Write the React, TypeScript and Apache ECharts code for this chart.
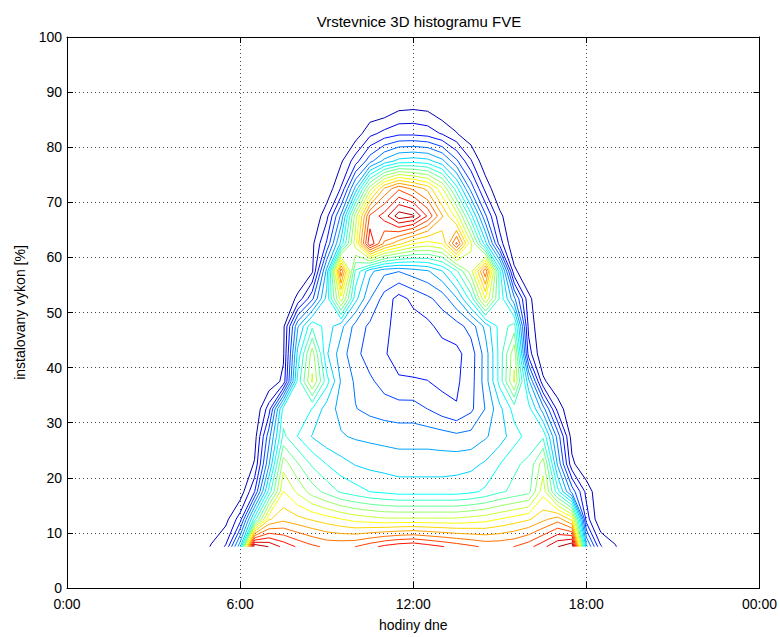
import React, { useEffect, useRef } from "react";
import * as echarts from "echarts";

// hour of day for each histogram column
const hours = [4.5, 5, 5.5, 6, 6.5, 7, 7.5, 8, 8.5, 9, 9.5, 10, 10.5, 11, 11.5, 12, 12.5, 13, 13.5, 14, 14.5, 15, 15.5, 16, 16.5, 17, 17.5, 18, 18.5, 19, 19.5, 20];
// installed power (%) for each histogram row
const percents = [7.5, 12.5, 17.5, 22.5, 27.5, 32.5, 37.5, 42.5, 47.5, 52.5, 57.5, 62.5, 67.5, 72.5, 77.5, 82.5, 87.5, 92.5];

// histogram counts (relative, 0-100), one row per power level, columns follow `hours`
const row075 = [0, 5.3, 10, 32, 100, 95, 89, 85, 82, 80, 80, 81, 84, 87, 89, 90, 88, 86, 84, 82, 80, 80, 81, 84, 89, 95, 100, 30, 10, 5.2, 0, 0];
const row125 = [0, 0, 3, 12, 40, 66, 70, 68, 66, 64, 62, 60, 59, 58, 58, 58, 58, 58, 58, 59, 60, 62, 64, 66, 70, 74, 65, 12, 0, 0, 0, 0];
const row175 = [0, 0, 0, 1.5, 14, 40, 62, 56, 50, 46, 42, 40, 38, 37, 36, 36, 36, 36, 36, 37, 39, 42, 44, 46, 60, 40, 22, 8, 0, 0, 0, 0];
const row225 = [0, 0, 0, 0, 5.2, 28, 55, 48, 42, 38, 35, 33, 32, 31.5, 31, 31, 31, 31, 31.5, 32, 34, 38, 42, 44, 55, 28, 6, 0, 0, 0, 0, 0];
const row275 = [0, 0, 0, 0, 2.5, 22, 44, 38, 33, 30, 29, 28, 27.5, 27, 26.5, 26.5, 26.5, 26, 25, 25.5, 28, 31, 36, 40, 42, 22, 2.5, 0, 0, 0, 0, 0];
const row325 = [0, 0, 0, 0, 0, 12, 40, 40, 38, 31, 27, 24, 22.5, 21.5, 21, 21, 19, 16.5, 14.6, 18, 24, 32, 40, 40, 26, 8, 0, 0, 0, 0, 0, 0];
const row375 = [0, 0, 0, 0, 0, 1, 6, 40, 58, 40, 28, 23, 20, 17, 15, 14.8, 14.4, 13, 13.5, 17, 26, 40, 58, 30, 6, 0, 0, 0, 0, 0, 0, 0];
const row425 = [0, 0, 0, 0, 0, 0, 4, 35, 55, 34, 26, 20.5, 16.5, 14.8, 12, 11.5, 11.5, 12, 13, 16.5, 26, 40, 56, 12, 0, 0, 0, 0, 0, 0, 0, 0];
const row475 = [0, 0, 0, 0, 0, 0, 3.5, 28, 42, 36, 30, 22, 18, 15.5, 12.5, 12, 13, 16, 17, 21, 30, 40, 45, 8, 0, 0, 0, 0, 0, 0, 0, 0];
const row525 = [0, 0, 0, 0, 0, 0, 0, 6, 18, 35, 60, 35, 24, 17, 12.5, 15.5, 18, 21, 28, 40, 62, 42, 25, 6, 0, 0, 0, 0, 0, 0, 0, 0];
const row575 = [0, 0, 0, 0, 0, 0, 0, 0, 4, 30, 80, 42, 30, 25, 24, 26, 28, 33, 42, 55, 80, 40, 6, 0, 0, 0, 0, 0, 0, 0, 0, 0];
const row625 = [0, 0, 0, 0, 0, 0, 0, 0, 3.5, 15, 35, 60, 90, 75, 68, 62, 60, 62, 82, 58, 35, 12, 0, 0, 0, 0, 0, 0, 0, 0, 0, 0];
const row675 = [0, 0, 0, 0, 0, 0, 0, 0, 0, 8, 25, 55, 82, 88, 98, 96, 85, 72, 60, 40, 20, 6, 0, 0, 0, 0, 0, 0, 0, 0, 0, 0];
const row725 = [0, 0, 0, 0, 0, 0, 0, 0, 0, 1, 10, 30, 55, 72, 80, 75, 70, 58, 40, 22, 8, 0, 0, 0, 0, 0, 0, 0, 0, 0, 0, 0];
const row775 = [0, 0, 0, 0, 0, 0, 0, 0, 0, 0, 4, 12, 22, 30, 35, 36, 35, 30, 20, 10, 1, 0, 0, 0, 0, 0, 0, 0, 0, 0, 0, 0];
const row825 = [0, 0, 0, 0, 0, 0, 0, 0, 0, 0, 0, 2, 8, 11, 13, 13, 12, 9, 5, 1, 0, 0, 0, 0, 0, 0, 0, 0, 0, 0, 0, 0];
const row875 = [0, 0, 0, 0, 0, 0, 0, 0, 0, 0, 0, 0, 0, 0, 3, 3.5, 3, 0, 0, 0, 0, 0, 0, 0, 0, 0, 0, 0, 0, 0, 0, 0];
const row925 = [0, 0, 0, 0, 0, 0, 0, 0, 0, 0, 0, 0, 0, 0, 0, 0, 0, 0, 0, 0, 0, 0, 0, 0, 0, 0, 0, 0, 0, 0, 0, 0];

const histogram = [row075, row125, row175, row225, row275, row325, row375, row425, row475, row525, row575, row625, row675, row725, row775, row825, row875, row925];

const xTickValues = [0, 6, 12, 18, 24];
const xTickLabels = ["0:00", "6:00", "12:00", "18:00", "00:00"];
// 20 contour levels (MATLAB contour(Z,20) style)
const contourLevels = [4.76, 9.52, 14.29, 19.05, 23.81, 28.57, 33.33, 38.1, 42.86, 47.62, 52.38, 57.14, 61.9, 66.67, 71.43, 76.19, 80.95, 85.71, 90.48, 95.24];

const FONT = '"Liberation Sans", Arial, Helvetica, sans-serif';

function jet(t: number): string {
  const cl = (v: number) => Math.max(0, Math.min(1, v));
  const r = cl(1.5 - Math.abs(4 * t - 3));
  const g = cl(1.5 - Math.abs(4 * t - 2));
  const b = cl(1.5 - Math.abs(4 * t - 1));
  return `rgb(${Math.round(r * 255)},${Math.round(g * 255)},${Math.round(b * 255)})`;
}

function contourLines(xs: number[], ys: number[], z: number[][], level: number): number[][][] {
  const pts = new Map<string, number[]>();
  const segs: [string, string][] = [];
  const hKey = (r: number, c: number) => {
    const k = "h" + r + "_" + c;
    if (!pts.has(k)) {
      const v0 = z[r][c], v1 = z[r][c + 1];
      const t = (level - v0) / (v1 - v0);
      pts.set(k, [xs[c] + t * (xs[c + 1] - xs[c]), ys[r]]);
    }
    return k;
  };
  const vKey = (r: number, c: number) => {
    const k = "v" + r + "_" + c;
    if (!pts.has(k)) {
      const v0 = z[r][c], v1 = z[r + 1][c];
      const t = (level - v0) / (v1 - v0);
      pts.set(k, [xs[c], ys[r] + t * (ys[r + 1] - ys[r])]);
    }
    return k;
  };
  for (let r = 0; r < ys.length - 1; r++) {
    for (let c = 0; c < xs.length - 1; c++) {
      const a = z[r][c], b = z[r][c + 1], e = z[r + 1][c + 1], d = z[r + 1][c];
      const idx = (a >= level ? 1 : 0) | (b >= level ? 2 : 0) | (e >= level ? 4 : 0) | (d >= level ? 8 : 0);
      if (idx === 0 || idx === 15) continue;
      const B = () => hKey(r, c), T = () => hKey(r + 1, c), L = () => vKey(r, c), R = () => vKey(r, c + 1);
      const add = (p: string, q: string) => segs.push([p, q]);
      const m = (a + b + e + d) / 4;
      switch (idx) {
        case 1: case 14: add(L(), B()); break;
        case 2: case 13: add(B(), R()); break;
        case 3: case 12: add(L(), R()); break;
        case 4: case 11: add(R(), T()); break;
        case 6: case 9: add(B(), T()); break;
        case 7: case 8: add(L(), T()); break;
        case 5:
          if (m >= level) { add(L(), T()); add(B(), R()); } else { add(L(), B()); add(R(), T()); }
          break;
        case 10:
          if (m >= level) { add(L(), B()); add(R(), T()); } else { add(B(), R()); add(L(), T()); }
          break;
      }
    }
  }
  const adj = new Map<string, number[]>();
  segs.forEach((s, i) => {
    for (const k of s) {
      if (!adj.has(k)) adj.set(k, []);
      adj.get(k)!.push(i);
    }
  });
  const used = new Array(segs.length).fill(false);
  const lines: number[][][] = [];
  for (let i = 0; i < segs.length; i++) {
    if (used[i]) continue;
    used[i] = true;
    const chain = [segs[i][0], segs[i][1]];
    const extend = (front: boolean) => {
      for (;;) {
        const end = front ? chain[chain.length - 1] : chain[0];
        const next = (adj.get(end) || []).find((j) => !used[j]);
        if (next === undefined) break;
        used[next] = true;
        const s = segs[next];
        const other = s[0] === end ? s[1] : s[0];
        if (front) chain.push(other); else chain.unshift(other);
      }
    };
    extend(true);
    extend(false);
    lines.push(chain.map((k) => pts.get(k)!));
  }
  return lines;
}

export default function App() {
  const ref = useRef<HTMLDivElement>(null);
  useEffect(() => {
    if (!ref.current) return;
    const chart = echarts.init(ref.current, null, { renderer: "svg" });
    let zMax = 0;
    histogram.forEach((r) => r.forEach((v) => { if (v > zMax) zMax = v; }));
    const data: any[] = [];
    contourLevels.forEach((lv) => {
      const color = jet(lv / zMax);
      contourLines(hours, percents, histogram, lv).forEach((coords) => {
        data.push({ coords, lineStyle: { color } });
      });
    });
    const axisLineStyle = { color: "#000", width: 1 };
    const split = { show: true, lineStyle: { type: [1, 3] as any, color: "#444", width: 1 } };
    chart.setOption({
      animation: false,
      backgroundColor: "#fff",
      title: {
        text: "Vrstevnice 3D histogramu FVE",
        left: 414,
        top: 9,
        textAlign: "center",
        textStyle: { fontFamily: FONT, fontSize: 15, fontWeight: "normal", color: "#000" },
      },
      grid: { left: 67, right: 18, top: 37, bottom: 45, containLabel: false },
      xAxis: [
        {
          type: "value", min: 0, max: 24, interval: 6, position: "bottom",
          axisLine: { show: true, onZero: false, lineStyle: axisLineStyle },
          axisTick: { show: true, inside: true, length: 6, lineStyle: axisLineStyle },
          axisLabel: {
            color: "#000", fontFamily: FONT, fontSize: 14, margin: 9,
            formatter: (v: number) => xTickLabels[xTickValues.indexOf(v)] ?? "",
          },
          splitLine: split,
          name: "hodiny dne", nameLocation: "middle", nameGap: 30,
          nameTextStyle: { fontFamily: FONT, fontSize: 14, color: "#000" },
        },
        {
          type: "value", min: 0, max: 24, interval: 6, position: "top",
          axisLine: { show: true, onZero: false, lineStyle: axisLineStyle },
          axisTick: { show: true, inside: true, length: 6, lineStyle: axisLineStyle },
          axisLabel: { show: false }, splitLine: { show: false },
        },
      ],
      yAxis: [
        {
          type: "value", min: 0, max: 100, interval: 10, position: "left",
          axisLine: { show: true, onZero: false, lineStyle: axisLineStyle },
          axisTick: { show: true, inside: true, length: 6, lineStyle: axisLineStyle },
          axisLabel: { color: "#000", fontFamily: FONT, fontSize: 14, margin: 5 },
          splitLine: split,
          name: "instalovany vykon [%]", nameLocation: "middle", nameGap: 40,
          nameTextStyle: { fontFamily: FONT, fontSize: 14, color: "#000" },
        },
        {
          type: "value", min: 0, max: 100, interval: 10, position: "right",
          axisLine: { show: true, onZero: false, lineStyle: axisLineStyle },
          axisTick: { show: true, inside: true, length: 6, lineStyle: axisLineStyle },
          axisLabel: { show: false }, splitLine: { show: false },
        },
      ],
      series: [
        {
          type: "lines",
          coordinateSystem: "cartesian2d",
          xAxisIndex: 0,
          yAxisIndex: 0,
          polyline: true,
          large: false,
          silent: true,
          lineStyle: { width: 1, opacity: 1 },
          data,
        },
      ],
    });
    return () => chart.dispose();
  }, []);
  return (
    <div
      ref={ref}
      style={{ position: "fixed", left: 0, top: 0, width: 780, height: 637, background: "#fff" }}
    />
  );
}
